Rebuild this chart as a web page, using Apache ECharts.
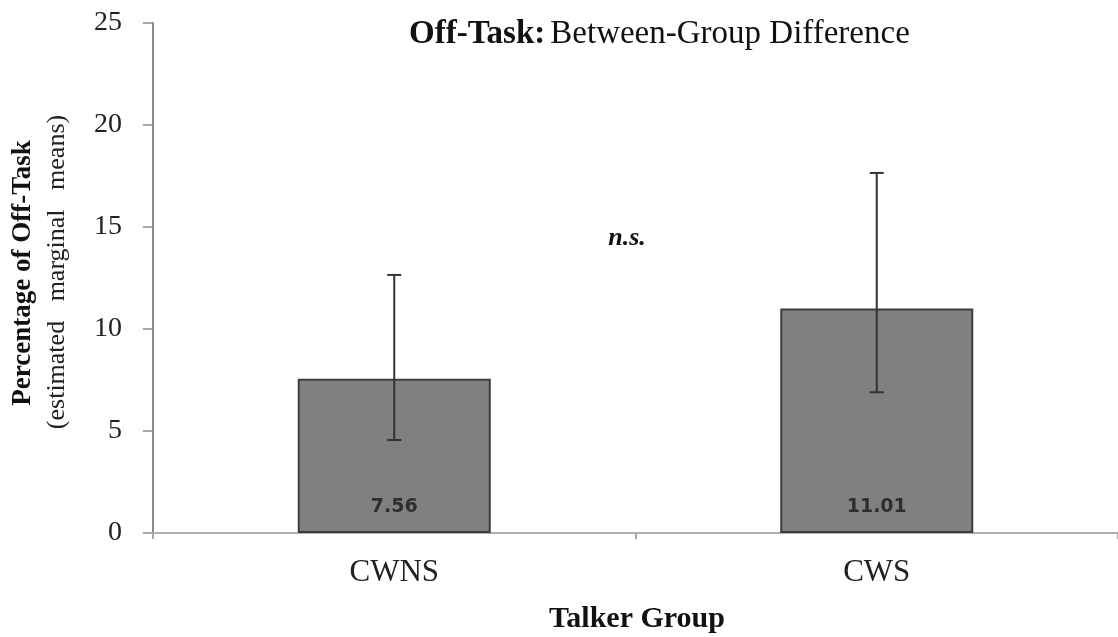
<!DOCTYPE html>
<html>
<head>
<meta charset="utf-8">
<script src="https://cdn.jsdelivr.net/npm/echarts@6/dist/echarts.min.js"></script>
<style>
  html, body { margin: 0; padding: 0; background: #fff; }
  #chart { width: 1118px; height: 637px; }
</style>
</head>
<body>
<div id="chart"></div>
<script>
const groups = ['CWNS', 'CWS'];
const means = [7.56, 11.01];
const errLow = [4.56, 6.9];
const errHigh = [12.65, 17.65];
const yTicks = [0, 5, 10, 15, 20, 25];

const serif = '"Liberation Serif", "DejaVu Serif", serif';

const errData = groups.map((g, i) => [i, errLow[i], errHigh[i]]);

const chart = echarts.init(document.getElementById('chart'));

const option = {
    animation: false,
    backgroundColor: '#fff',
    title: {
        text: '{b|Off-Task:} {n|Between-Group Difference}',
        left: 404,
        top: 13,
        textStyle: {
            rich: {
                b: { fontFamily: serif, fontSize: 33, fontWeight: 'bold', color: '#111' },
                n: { fontFamily: serif, fontSize: 33, fontWeight: 'normal', color: '#111' }
            }
        }
    },
    grid: { left: 153, right: -6, top: 23, bottom: 104 },
    xAxis: {
        type: 'category',
        data: groups,
        axisLine: { lineStyle: { color: '#b0b0b0', width: 2 } },
        axisTick: { show: true, length: 6, lineStyle: { color: '#a8a8a8', width: 2 } },
        axisLabel: { fontFamily: serif, fontSize: 31, color: '#222', margin: 24 }
    },
    yAxis: {
        type: 'value',
        min: yTicks[0],
        max: yTicks[yTicks.length - 1],
        interval: 5,
        splitLine: { show: false },
        axisLine: { show: true, lineStyle: { color: '#8c8c8c', width: 2 } },
        axisTick: { show: true, inside: false, length: 10, lineStyle: { color: '#8c8c8c', width: 1.5 } },
        axisLabel: { fontFamily: serif, fontSize: 28, color: '#222', margin: 31 }
    },
    series: [
        {
            type: 'bar',
            data: means,
            barWidth: '40%',
            itemStyle: { color: '#808080', borderColor: '#3c3c3c', borderWidth: 2 },
            label: {
                show: true,
                position: 'insideBottom',
                distance: 16,
                fontFamily: '"DejaVu Sans", Verdana, sans-serif',
                fontWeight: 'bold',
                fontSize: 19,
                color: '#2e2e2e',
                formatter: p => p.value.toFixed(2)
            }
        },
        {
            type: 'custom',
            data: errData,
            z: 10,
            renderItem: function (params, api) {
                const x = api.value(0);
                const lo = api.coord([x, api.value(1)]);
                const hi = api.coord([x, api.value(2)]);
                const cap = 7;
                const style = { stroke: '#333', lineWidth: 2 };
                return {
                    type: 'group',
                    children: [
                        { type: 'line', shape: { x1: hi[0], y1: hi[1], x2: lo[0], y2: lo[1] }, style: style },
                        { type: 'line', shape: { x1: hi[0] - cap, y1: hi[1], x2: hi[0] + cap, y2: hi[1] }, style: style },
                        { type: 'line', shape: { x1: lo[0] - cap, y1: lo[1], x2: lo[0] + cap, y2: lo[1] }, style: style }
                    ]
                };
            }
        }
    ],
    graphic: [
        {
            type: 'text',
            x: 23, y: 273,
            rotation: Math.PI / 2,
            style: {
                text: 'Percentage of Off-Task',
                fontFamily: serif, fontSize: 27, fontWeight: 'bold', fill: '#111',
                align: 'center', verticalAlign: 'middle'
            }
        },
        {
            type: 'text',
            x: 57, y: 272,
            rotation: Math.PI / 2,
            style: {
                text: '(estimated   marginal   means)',
                fontFamily: serif, fontSize: 26, fill: '#222',
                align: 'center', verticalAlign: 'middle'
            }
        },
        {
            type: 'text',
            x: 627, y: 238,
            style: {
                text: 'n.s.',
                fontFamily: serif, fontSize: 26, fontWeight: 'bold', fontStyle: 'italic', fill: '#111',
                align: 'center', verticalAlign: 'middle'
            }
        },
        {
            type: 'text',
            x: 637, y: 619,
            style: {
                text: 'Talker Group',
                fontFamily: serif, fontSize: 30, fontWeight: 'bold', fill: '#111',
                align: 'center', verticalAlign: 'middle'
            }
        }
    ]
};

chart.setOption(option);
</script>
</body>
</html>
